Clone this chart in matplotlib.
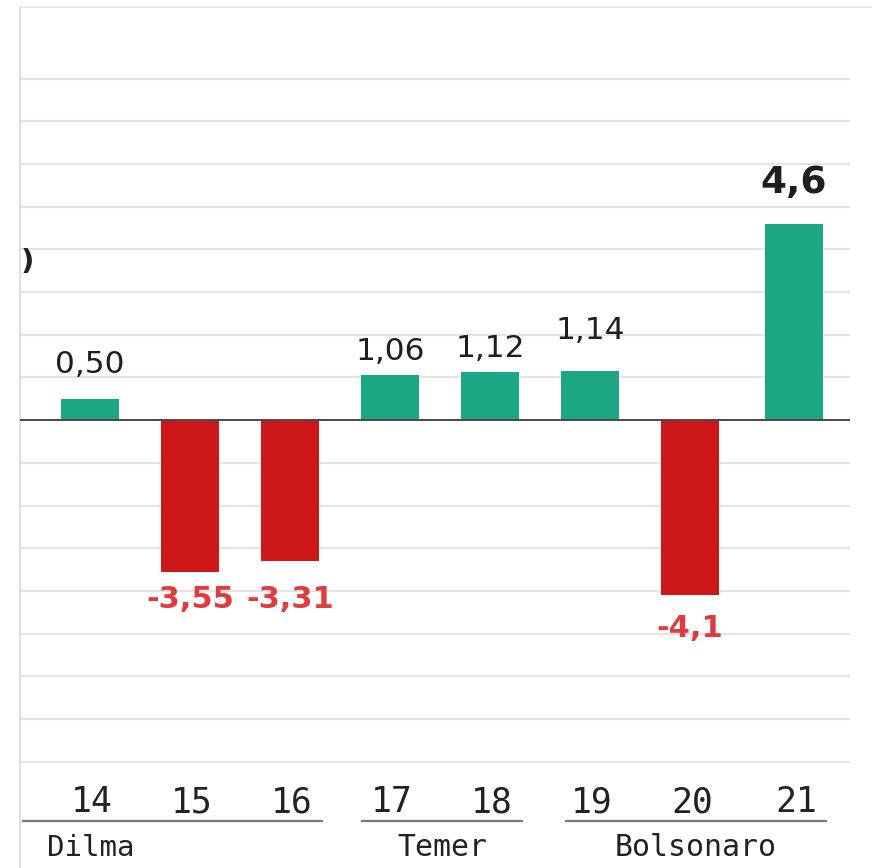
import matplotlib.pyplot as plt

# data
years = ['14', '15', '16', '17', '18', '19', '20', '21']
values = [0.50, -3.55, -3.31, 1.06, 1.12, 1.14, -4.1, 4.6]
labels = ['0,50', '-3,55', '-3,31', '1,06', '1,12', '1,14', '-4,1', '4,6']
groups = ['Dilma', 'Temer', 'Bolsonaro']
group_span = [(0, 2), (3, 4), (5, 7)]

# label gap from bar end, in value units
label_gap = [0.8, 0.65, 0.9, 0.55, 0.55, 0.95, 0.78, 0.95]

GREEN = '#1ba784'
RED = '#cd1719'

fig = plt.figure(figsize=(8.72, 8.68), dpi=100)
ax = fig.add_axes([0, 0, 1, 1])
ax.set_xlim(-0.9, 7.82)
ax.set_ylim(-10.49, 9.84)
ax.axis('off')

# grid
for g in range(-8, 9):
    if g == 0:
        continue
    ax.hlines(g, -0.7, 7.6, color='#e4e4e4', lw=1.6, zorder=0)
ax.hlines(9.67, -0.7, 7.9, color='#e4e4e4', lw=1.2, zorder=0)
ax.vlines(-0.7, -10.6, 9.67, color='#d9d9d9', lw=1.2, zorder=0)

x = list(range(len(values)))
x[-1] = 7.04
colors = [GREEN if v >= 0 else RED for v in values]
ax.bar(x, values, width=0.58, color=colors, zorder=2)
ax.hlines(0, -0.7, 7.6, color='#4a4a4a', lw=1.4, zorder=3)

for xi, v, lab, gap in zip(x, values, labels, label_gap):
    if v >= 0:
        big = lab == '4,6'
        ax.text(xi, v + gap, lab, ha='center', va='center',
                fontsize=27 if big else 22.5, family='DejaVu Sans',
                color='#1e1e1e', fontweight='bold' if big else 'normal')
    else:
        ax.text(xi, v - gap, lab, ha='center', va='center', fontsize=22,
                family='DejaVu Sans', fontweight='bold', color='#e23b3d')

# years
for xi, yr in zip(x, years):
    ax.text(xi + 0.02, -8.95, yr, ha='center', va='center', fontsize=25,
            family='DejaVu Sans Mono', color='#222222')

# group underlines and names
under_left = [-0.68, 2.71, 4.75]
under_right = [2.33, 4.33, 7.37]
for l, r, name in zip(under_left, under_right, groups):
    ax.hlines(-9.38, l, r, color='#777777', lw=1.6)
    if name == 'Dilma':
        ax.text(-0.43, -10.02, name, ha='left', va='center', fontsize=21,
                family='DejaVu Sans Mono', color='#222222')
    else:
        ax.text((l + r) / 2, -10.02, name, ha='center', va='center',
                fontsize=21.5, family='DejaVu Sans Mono', color='#222222')

# cropped axis title remnant
ax.text(-0.69, 3.7, ')', ha='left', va='center', fontsize=21,
        family='DejaVu Sans', fontweight='bold', color='#222222')

plt.savefig('out.png', dpi=100)
